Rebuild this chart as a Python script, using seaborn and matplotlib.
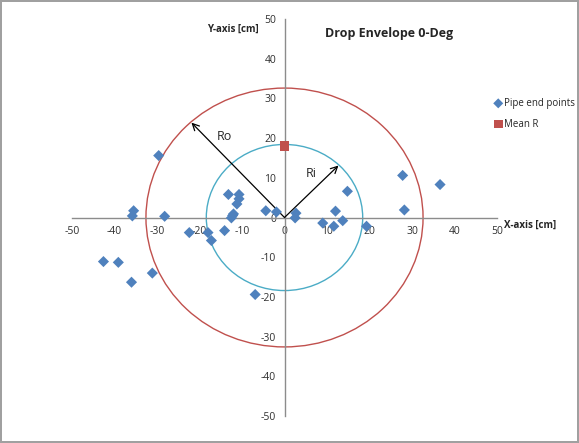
import matplotlib
matplotlib.use("Agg")
import matplotlib.pyplot as plt
from matplotlib.patches import Circle
import seaborn as sns
import pandas as pd

# ---- data ----
pipe_x = [-29.6, -35.5, -35.8, -28.2, -22.4, -18.0, -17.2, -14.1, -13.2, -10.7,
          -10.7, -11.2, -12.0, -12.5, -12.2, -4.4, -1.9, -42.6, -39.1, -36.0,
          -31.1, -6.9, 2.7, 2.5, 9.0, 12.0, 11.6, 13.7, 14.8, 19.3, 27.8, 28.2, 36.6]
pipe_y = [15.6, 1.7, 0.4, 0.3, -3.8, -3.8, -5.8, -3.3, 5.8, 5.8,
          4.7, 3.4, 0.9, -0.1, 0.5, 1.7, 1.4, -11.1, -11.3, -16.3,
          -14.0, -19.4, 1.1, -0.1, -1.4, 1.6, -2.2, -0.8, 6.6, -2.2, 10.6, 1.9, 8.3]
mean_x = [0.0]
mean_y = [18.0]
radius_inner = 18.4
radius_outer = 32.6
arrow_ro = (-21.9, 23.9)
arrow_ri = (12.7, 13.1)
ticks = list(range(-50, 51, 10))

sns.set_theme(style="white")
plt.rcParams['font.family'] = ['Open Sans', 'DejaVu Sans']
plt.rcParams['axes.unicode_minus'] = False

fig = plt.figure(figsize=(5.79, 4.43), dpi=100)
fig.patch.set_facecolor("white")
fig.patch.set_edgecolor("#A0A0A0")
fig.patch.set_linewidth(1.5)
ax = fig.add_axes([72/579, 1-416/443, 425/579, 397/443])

df = pd.DataFrame({"x": pipe_x, "y": pipe_y})
dm = pd.DataFrame({"x": mean_x, "y": mean_y})

ax.add_patch(Circle((0, 0), radius_inner, fill=False, edgecolor="#4BACC6", linewidth=1.0, zorder=2))
ax.add_patch(Circle((0, 0), radius_outer, fill=False, edgecolor="#C0504D", linewidth=1.0, zorder=2))

ax.annotate("", xy=arrow_ro, xytext=(0, 0),
            arrowprops=dict(arrowstyle="->", color="black", lw=0.9, shrinkA=0, shrinkB=0), zorder=3)
ax.annotate("", xy=arrow_ri, xytext=(0, 0),
            arrowprops=dict(arrowstyle="->", color="black", lw=0.9, shrinkA=0, shrinkB=0), zorder=3)
ax.text(-14.1, 20.4, "Ro", fontsize=9, ha="center", va="center")
ax.text(6.4, 11.2, "Ri", fontsize=9, ha="center", va="center")

sns.scatterplot(data=df, x="x", y="y", ax=ax, marker="D", s=32, color="#4F81BD",
                edgecolor="none", label="Pipe end points", zorder=4)
sns.scatterplot(data=dm, x="x", y="y", ax=ax, marker="s", s=48, color="#C0504D",
                edgecolor="none", label="Mean R", zorder=4)

ax.set_xlim(-50, 50)
ax.set_ylim(-50, 50)
ax.set_xticks(ticks)
ax.set_yticks(ticks)
ax.set_xlabel("")
ax.set_ylabel("")
for s in ["top", "right"]:
    ax.spines[s].set_visible(False)
for s in ["left", "bottom"]:
    ax.spines[s].set_position(("data", 0))
    ax.spines[s].set_color("#8C8C8C")
    ax.spines[s].set_linewidth(1.0)
ax.tick_params(axis="both", direction="out", length=4, width=1, color="#8C8C8C",
               labelsize=7.5, labelcolor="#303030", pad=2)
ax.set_facecolor("none")

ax.text(-12.2, 47.3, "Y-axis [cm]", fontsize=7, fontweight="bold", ha="center", va="center")
ax.text(57.7, -2.0, "X-axis [cm]", fontsize=7, fontweight="bold", ha="center", va="center",
        clip_on=False)
ax.text(24.5, 46.3, "Drop Envelope 0-Deg", fontsize=9, fontweight="bold", ha="center", va="center")

ax.legend_.remove()
h, l = ax.get_legend_handles_labels()
fig.legend(h, l, loc="upper left", bbox_to_anchor=(489/579, 1-94/443), frameon=False,
           fontsize=7, handletextpad=0.05, labelspacing=1.0, markerscale=0.9,
           borderaxespad=0, handlelength=1.1)

fig.savefig("out.png", dpi=100, facecolor=fig.get_facecolor(), edgecolor=fig.get_edgecolor())
